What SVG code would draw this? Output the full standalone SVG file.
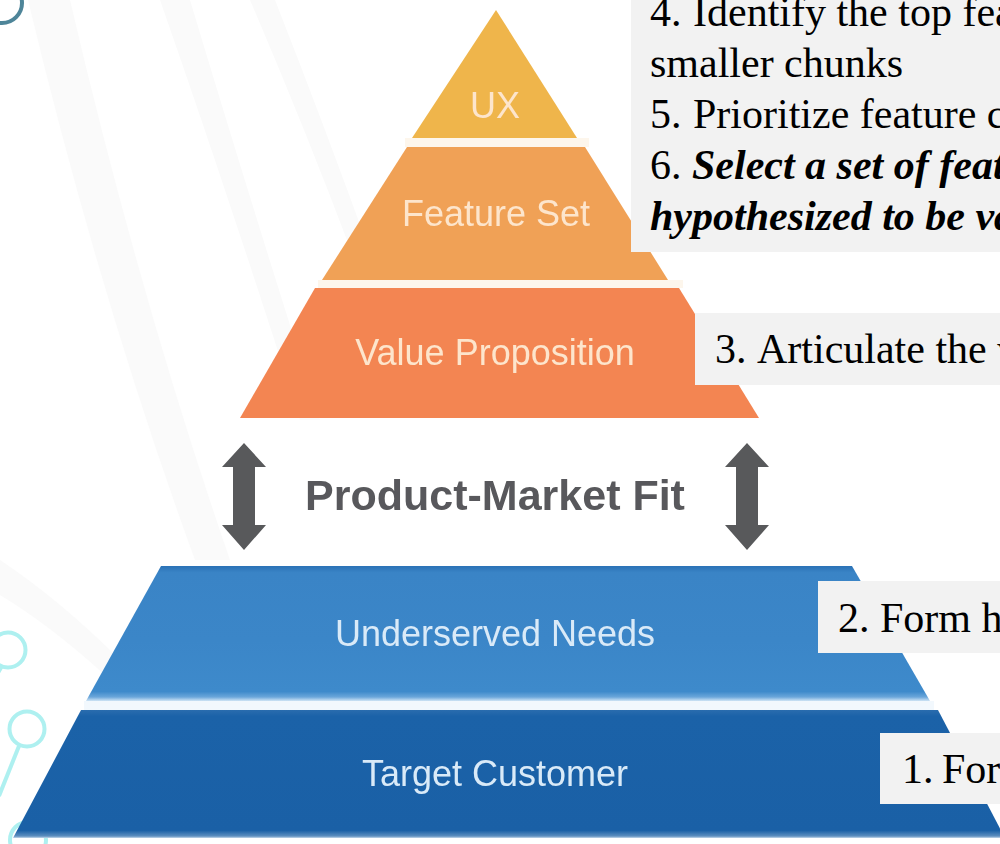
<svg xmlns="http://www.w3.org/2000/svg" width="1000" height="844" viewBox="0 0 1000 844">
  <defs>
    <style>
      .band { fill: #fafafa; }
      .deco { fill: none; stroke: #aef0f0; stroke-width: 4; }
      .tier-label { font-family: "Liberation Sans", Arial, sans-serif; font-size: 36px; text-anchor: middle; }
      .warm-label { fill: #fde5cc; }
      .cool-label { fill: #d9eaf8; }
      .note-box { fill: #f2f2f2; }
      .note { font-family: "Liberation Serif", "Times New Roman", serif; font-size: 42px; fill: #000; }
      .emph { font-weight: bold; font-style: italic; }
      .fit-label { font-family: "Liberation Sans", Arial, sans-serif; font-size: 43px; font-weight: bold; fill: #58595b; text-anchor: middle; }
      .updown { fill: #58595b; }
      .gap { fill: #fdf6ec; }
    </style>
    <linearGradient id="gradNeeds" x1="0" y1="0" x2="0" y2="1">
      <stop offset="0" stop-color="#2b72b6"/>
      <stop offset="0.05" stop-color="#3a84c6"/>
      <stop offset="0.55" stop-color="#3b86c8"/>
      <stop offset="0.93" stop-color="#3e8acb"/>
      <stop offset="0.97" stop-color="#6aa6da"/>
      <stop offset="1" stop-color="#cfe4f5"/>
    </linearGradient>
    <linearGradient id="gradCustomer" x1="0" y1="0" x2="0" y2="1">
      <stop offset="0" stop-color="#2a6cae"/>
      <stop offset="0.05" stop-color="#1b62a8"/>
      <stop offset="0.94" stop-color="#1a60a6"/>
      <stop offset="0.985" stop-color="#5e8fbf"/>
      <stop offset="1" stop-color="#c5d8ea"/>
    </linearGradient>
    <filter id="soft" x="-5%" y="-20%" width="110%" height="140%">
      <feGaussianBlur stdDeviation="0.7"/>
    </filter>
  </defs>

  <!-- backdrop with faint sweeping bands -->
  <rect width="1000" height="844" fill="#ffffff"/>
  <path class="band" d="M28,0 L70,0 Q140,300 230,560 L195,560 Q100,300 28,0 Z"/>
  <path class="band" d="M160,0 L190,0 Q250,200 320,420 L300,420 Q230,200 160,0 Z"/>
  <path class="band" d="M250,0 L275,0 Q330,140 380,280 L362,280 Q310,140 250,0 Z"/>
  <path class="band" d="M0,560 Q60,600 120,660 L105,675 Q50,625 0,595 Z"/>

  <!-- corner ornaments -->
  <circle cx="2" cy="3" r="20" fill="none" stroke="#4e8599" stroke-width="4"/>
  <circle class="deco" cx="8" cy="650" r="17.5"/>
  <line class="deco" x1="2" y1="666" x2="-4" y2="676"/>
  <circle class="deco" cx="27" cy="729" r="17.5"/>
  <line class="deco" x1="19" y1="746" x2="-1" y2="796"/>
  <circle class="deco" cx="28" cy="840" r="18"/>

  <!-- pyramid tiers -->
  <g id="tier-ux">
    <polygon points="496,10 577,138 412,138" fill="#efb54b"/>
    <text class="tier-label warm-label" x="495" y="118" filter="url(#soft)">UX</text>
  </g>
  <rect class="gap" x="405" y="138" width="184" height="9"/>
  <g id="tier-feature-set">
    <polygon points="407,147 585,147 668,280 322,280" fill="#f0a156"/>
    <text class="tier-label warm-label" x="496" y="226" filter="url(#soft)">Feature Set</text>
  </g>
  <rect class="gap" x="318" y="280" width="365" height="8"/>
  <g id="tier-value-proposition">
    <polygon points="315,288 679,288 759,418 240,418" fill="#f38552"/>
    <text class="tier-label warm-label" x="495" y="365" filter="url(#soft)">Value Proposition</text>
  </g>

  <g id="product-market-fit">
    <text class="fit-label" x="495" y="510" filter="url(#soft)">Product-Market Fit</text>
  </g>

  <g id="tier-underserved-needs">
    <polygon points="161,566 852,566 930,701 86,701" fill="url(#gradNeeds)"/>
    <text class="tier-label cool-label" x="495" y="646" filter="url(#soft)">Underserved Needs</text>
  </g>
  <rect x="84" y="701" width="850" height="9" fill="#f2f8fd"/>
  <g id="tier-target-customer">
    <polygon points="81,710 938,710 1005,838 13,838" fill="url(#gradCustomer)"/>
    <text class="tier-label cool-label" x="495" y="786" filter="url(#soft)">Target Customer</text>
  </g>

  <!-- two-way links between product and market halves -->
  <g id="connectors">
    <polygon class="updown" points="244,443 266,467 255,467 255,525 266,525 244,550 222,525 233,525 233,467 222,467"/>
    <polygon class="updown" points="747,443 769,467 758,467 758,525 769,525 747,550 725,525 736,525 736,467 725,467"/>
  </g>

  <!-- step notes; the lines run on past the right edge -->
  <g id="note-steps-4-6">
    <rect class="note-box" x="631" y="0" width="369" height="252"/>
    <text class="note" y="26"><tspan x="650">4.</tspan><tspan x="693">Identify the top features</tspan></text>
    <text class="note" x="650" y="77">smaller chunks</text>
    <text class="note" y="128"><tspan x="650">5.</tspan><tspan x="693">Prioritize feature chunks</tspan></text>
    <text class="note" y="179"><tspan x="650">6.</tspan><tspan class="emph" x="692">Select a set of features</tspan></text>
    <text class="note emph" x="650" y="230">hypothesized to be valuable</text>
  </g>
  <g id="note-step-3">
    <rect class="note-box" x="695" y="313" width="305" height="72"/>
    <text class="note" y="363"><tspan x="715">3.</tspan><tspan x="757">Articulate the value</tspan></text>
  </g>
  <g id="note-step-2">
    <rect class="note-box" x="818" y="581" width="182" height="72"/>
    <text class="note" y="632"><tspan x="838">2.</tspan><tspan x="880">Form hypotheses</tspan></text>
  </g>
  <g id="note-step-1">
    <rect class="note-box" x="880" y="733" width="120" height="71"/>
    <text class="note" y="783"><tspan x="902">1.</tspan><tspan x="942">Form</tspan></text>
  </g>
</svg>
